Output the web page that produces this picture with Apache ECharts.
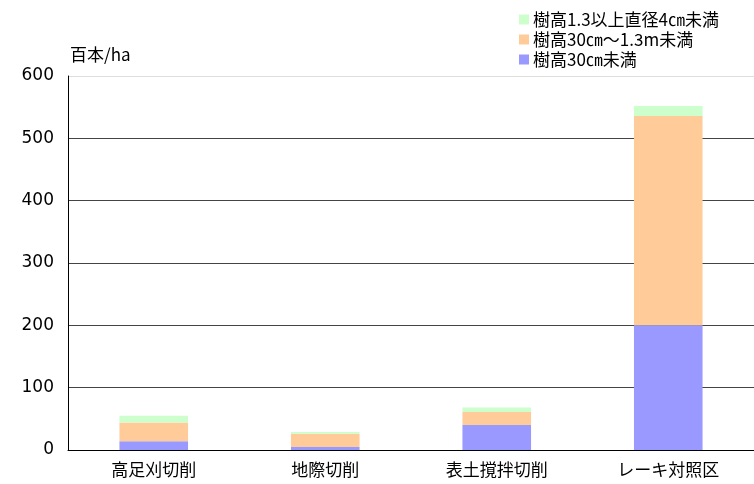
<!DOCTYPE html>
<html>
<head>
<meta charset="utf-8">
<script src="https://cdn.jsdelivr.net/npm/echarts@6/dist/echarts.min.js"></script>
<style>
  html, body { margin: 0; padding: 0; background: #fff; }
  #chart { width: 754px; height: 484px; }
</style>
</head>
<body>
<div id="chart"></div>
<script>
// 区分
const categories = ['高足刈切削', '地際切削', '表土撹拌切削', 'レーキ対照区']
// 樹高30㎝未満
const under30cm = [14, 5, 40, 200]
// 樹高30㎝～1.3m未満
const from30cmTo13m = [30, 21, 21, 336]
// 樹高1.3以上直径4㎝未満
const over13m = [11, 3, 7, 16]
const yTicks = [0, 100, 200, 300, 400, 500, 600]

const seriesNames = ['樹高30㎝未満', '樹高30㎝～1.3m未満', '樹高1.3以上直径4㎝未満']
const colors = ['#9999ff', '#ffcc99', '#ccffcc']

const chart = echarts.init(document.getElementById('chart'))

const option = {
  animation: false,
  textStyle: { fontFamily: '"Noto Sans CJK JP", sans-serif' },
  grid: {
    left: 68,
    right: 0,
    top: 76,
    bottom: 34,
    containLabel: false
  },
  legend: {
    orient: 'vertical',
    left: 514,
    top: 6,
    itemWidth: 10,
    itemHeight: 10,
    itemGap: 3,
    icon: 'rect',
    data: [seriesNames[2], seriesNames[1], seriesNames[0]],
    textStyle: { color: '#000', fontSize: 17, padding: [0, 0, 0, -1] }
  },
  xAxis: {
    type: 'category',
    data: categories,
    axisTick: { show: false },
    axisLine: { lineStyle: { color: '#000', width: 1 } },
    axisLabel: { color: '#000', fontSize: 17, margin: 11 }
  },
  yAxis: {
    type: 'value',
    min: yTicks[0],
    max: yTicks[yTicks.length - 1],
    interval: 100,
    name: '百本/ha',
    nameLocation: 'end',
    nameGap: 13,
    nameTextStyle: { color: '#000', fontSize: 17, align: 'left', padding: [0, 0, 0, 2] },
    axisLine: { show: true, lineStyle: { color: '#000', width: 1 } },
    axisTick: { show: false },
    axisLabel: {
      color: '#000',
      fontSize: 17,
      margin: 14,
      fontFamily: '"DejaVu Sans", sans-serif'
    },
    splitLine: {
      lineStyle: {
        color: ['#444', '#444', '#444', '#444', '#444', '#444', '#dddddd'],
        width: 1
      }
    }
  },
  series: [
    { name: seriesNames[0], data: under30cm, color: colors[0] },
    { name: seriesNames[1], data: from30cmTo13m, color: colors[1] },
    { name: seriesNames[2], data: over13m, color: colors[2] }
  ].map(s => ({
    name: s.name,
    type: 'bar',
    stack: 'total',
    barWidth: '40%',
    data: s.data,
    itemStyle: { color: s.color },
    emphasis: { disabled: true }
  }))
}

chart.setOption(option)
</script>
</body>
</html>
